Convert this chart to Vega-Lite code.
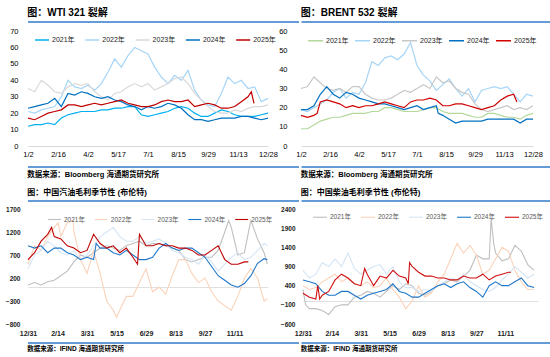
{
"$schema": "https://vega.github.io/schema/vega-lite/v6.json",
"padding": {"left": 5, "top": 8, "right": 0, "bottom": 0},
"background": "white",
"config": {
  "view": {"stroke": null},
  "font": "Liberation Sans, Noto Sans CJK SC",
  "title": {"font": "Liberation Sans, Noto Sans CJK SC", "color": "#000"},
  "axis": {"labelFont": "Liberation Sans, Noto Sans CJK SC", "labelFlush": false, "labelOverlap": false, "format": "d"},
  "legend": {"labelFont": "Liberation Sans, Noto Sans CJK SC"}
},
"resolve": {"scale": {"color": "independent", "strokeWidth": "independent", "x": "independent", "y": "independent"}, "legend": {"color": "independent", "strokeWidth": "independent"}},
"datasets": {
"wti": [
{"s":"2021年","d":2,"v":12},{"s":"2021年","d":12,"v":13},{"s":"2021年","d":22,"v":13},{"s":"2021年","d":32,"v":14},{"s":"2021年","d":42,"v":13},{"s":"2021年","d":52,"v":17},{"s":"2021年","d":62,"v":19},{"s":"2021年","d":72,"v":20},{"s":"2021年","d":82,"v":21},{"s":"2021年","d":92,"v":21},{"s":"2021年","d":102,"v":21},{"s":"2021年","d":112,"v":22},{"s":"2021年","d":122,"v":22},{"s":"2021年","d":132,"v":23},{"s":"2021年","d":142,"v":23},{"s":"2021年","d":152,"v":24},{"s":"2021年","d":162,"v":24},{"s":"2021年","d":172,"v":19},{"s":"2021年","d":182,"v":18},{"s":"2021年","d":192,"v":19},{"s":"2021年","d":202,"v":20},{"s":"2021年","d":212,"v":21},{"s":"2021年","d":222,"v":23},{"s":"2021年","d":232,"v":24},{"s":"2021年","d":242,"v":23},{"s":"2021年","d":252,"v":20},{"s":"2021年","d":262,"v":18},{"s":"2021年","d":272,"v":18},{"s":"2021年","d":282,"v":20},{"s":"2021年","d":292,"v":22},{"s":"2021年","d":302,"v":21},{"s":"2021年","d":312,"v":19},{"s":"2021年","d":322,"v":18},{"s":"2021年","d":332,"v":18},{"s":"2021年","d":342,"v":18},{"s":"2021年","d":352,"v":19},{"s":"2021年","d":362,"v":20},
{"s":"2022年","d":2,"v":21},{"s":"2022年","d":12,"v":20},{"s":"2022年","d":22,"v":22},{"s":"2022年","d":32,"v":23},{"s":"2022年","d":42,"v":24},{"s":"2022年","d":52,"v":30},{"s":"2022年","d":62,"v":40},{"s":"2022年","d":72,"v":36},{"s":"2022年","d":82,"v":35},{"s":"2022年","d":92,"v":37},{"s":"2022年","d":102,"v":34},{"s":"2022年","d":112,"v":38},{"s":"2022年","d":122,"v":45},{"s":"2022年","d":132,"v":53},{"s":"2022年","d":142,"v":48},{"s":"2022年","d":152,"v":55},{"s":"2022年","d":162,"v":60},{"s":"2022年","d":172,"v":58},{"s":"2022年","d":182,"v":56},{"s":"2022年","d":192,"v":48},{"s":"2022年","d":202,"v":42},{"s":"2022年","d":212,"v":38},{"s":"2022年","d":222,"v":43},{"s":"2022年","d":232,"v":40},{"s":"2022年","d":242,"v":46},{"s":"2022年","d":252,"v":34},{"s":"2022年","d":262,"v":28},{"s":"2022年","d":272,"v":25},{"s":"2022年","d":282,"v":24},{"s":"2022年","d":292,"v":32},{"s":"2022年","d":302,"v":42},{"s":"2022年","d":312,"v":38},{"s":"2022年","d":322,"v":40},{"s":"2022年","d":332,"v":35},{"s":"2022年","d":342,"v":36},{"s":"2022年","d":352,"v":27},{"s":"2022年","d":362,"v":29},
{"s":"2023年","d":2,"v":35},{"s":"2023年","d":12,"v":33},{"s":"2023年","d":22,"v":40},{"s":"2023年","d":32,"v":37},{"s":"2023年","d":42,"v":33},{"s":"2023年","d":52,"v":32},{"s":"2023年","d":62,"v":36},{"s":"2023年","d":72,"v":38},{"s":"2023年","d":82,"v":37},{"s":"2023年","d":92,"v":38},{"s":"2023年","d":102,"v":33},{"s":"2023年","d":112,"v":30},{"s":"2023年","d":122,"v":28},{"s":"2023年","d":132,"v":32},{"s":"2023年","d":142,"v":33},{"s":"2023年","d":152,"v":36},{"s":"2023年","d":162,"v":38},{"s":"2023年","d":172,"v":36},{"s":"2023年","d":182,"v":38},{"s":"2023年","d":192,"v":34},{"s":"2023年","d":202,"v":36},{"s":"2023年","d":212,"v":38},{"s":"2023年","d":222,"v":41},{"s":"2023年","d":232,"v":42},{"s":"2023年","d":242,"v":38},{"s":"2023年","d":252,"v":32},{"s":"2023年","d":262,"v":28},{"s":"2023年","d":272,"v":24},{"s":"2023年","d":282,"v":21},{"s":"2023年","d":292,"v":20},{"s":"2023年","d":302,"v":20},{"s":"2023年","d":312,"v":22},{"s":"2023年","d":322,"v":21},{"s":"2023年","d":332,"v":23},{"s":"2023年","d":342,"v":24},{"s":"2023年","d":352,"v":24},{"s":"2023年","d":362,"v":25},
{"s":"2024年","d":2,"v":23},{"s":"2024年","d":12,"v":24},{"s":"2024年","d":22,"v":25},{"s":"2024年","d":32,"v":26},{"s":"2024年","d":42,"v":29},{"s":"2024年","d":52,"v":24},{"s":"2024年","d":62,"v":32},{"s":"2024年","d":72,"v":31},{"s":"2024年","d":82,"v":33},{"s":"2024年","d":92,"v":32},{"s":"2024年","d":102,"v":30},{"s":"2024年","d":112,"v":29},{"s":"2024年","d":122,"v":30},{"s":"2024年","d":132,"v":28},{"s":"2024年","d":142,"v":27},{"s":"2024年","d":152,"v":25},{"s":"2024年","d":162,"v":24},{"s":"2024年","d":172,"v":22},{"s":"2024年","d":182,"v":24},{"s":"2024年","d":192,"v":23},{"s":"2024年","d":202,"v":24},{"s":"2024年","d":212,"v":26},{"s":"2024年","d":222,"v":25},{"s":"2024年","d":232,"v":23},{"s":"2024年","d":242,"v":19},{"s":"2024年","d":252,"v":16},{"s":"2024年","d":262,"v":16},{"s":"2024年","d":272,"v":15},{"s":"2024年","d":282,"v":16},{"s":"2024年","d":292,"v":17},{"s":"2024年","d":302,"v":17},{"s":"2024年","d":312,"v":17},{"s":"2024年","d":322,"v":18},{"s":"2024年","d":332,"v":18},{"s":"2024年","d":342,"v":17},{"s":"2024年","d":352,"v":16},{"s":"2024年","d":362,"v":17},
{"s":"2025年","d":2,"v":17},{"s":"2025年","d":12,"v":16},{"s":"2025年","d":22,"v":18},{"s":"2025年","d":32,"v":20},{"s":"2025年","d":42,"v":21},{"s":"2025年","d":52,"v":22},{"s":"2025年","d":62,"v":25},{"s":"2025年","d":72,"v":25},{"s":"2025年","d":82,"v":24},{"s":"2025年","d":92,"v":25},{"s":"2025年","d":102,"v":26},{"s":"2025年","d":112,"v":25},{"s":"2025年","d":122,"v":26},{"s":"2025年","d":132,"v":27},{"s":"2025年","d":142,"v":28},{"s":"2025年","d":152,"v":26},{"s":"2025年","d":162,"v":25},{"s":"2025年","d":172,"v":24},{"s":"2025年","d":182,"v":24},{"s":"2025年","d":192,"v":25},{"s":"2025年","d":202,"v":27},{"s":"2025年","d":212,"v":28},{"s":"2025年","d":222,"v":27},{"s":"2025年","d":232,"v":27},{"s":"2025年","d":242,"v":28},{"s":"2025年","d":252,"v":24},{"s":"2025年","d":262,"v":25},{"s":"2025年","d":272,"v":26},{"s":"2025年","d":282,"v":25},{"s":"2025年","d":292,"v":23},{"s":"2025年","d":302,"v":23},{"s":"2025年","d":312,"v":24},{"s":"2025年","d":322,"v":27},{"s":"2025年","d":332,"v":30},{"s":"2025年","d":337,"v":33},{"s":"2025年","d":341,"v":26}
],
"brent": [
{"s":"2021年","d":2,"v":9},{"s":"2021年","d":12,"v":9},{"s":"2021年","d":22,"v":11},{"s":"2021年","d":32,"v":13},{"s":"2021年","d":42,"v":14},{"s":"2021年","d":52,"v":15},{"s":"2021年","d":62,"v":15},{"s":"2021年","d":72,"v":16},{"s":"2021年","d":82,"v":17},{"s":"2021年","d":92,"v":17},{"s":"2021年","d":102,"v":17},{"s":"2021年","d":112,"v":18},{"s":"2021年","d":122,"v":18},{"s":"2021年","d":132,"v":20},{"s":"2021年","d":142,"v":20},{"s":"2021年","d":152,"v":19},{"s":"2021年","d":162,"v":18},{"s":"2021年","d":172,"v":18},{"s":"2021年","d":182,"v":18},{"s":"2021年","d":192,"v":19},{"s":"2021年","d":202,"v":20},{"s":"2021年","d":212,"v":20},{"s":"2021年","d":222,"v":18},{"s":"2021年","d":232,"v":17},{"s":"2021年","d":242,"v":17},{"s":"2021年","d":252,"v":17},{"s":"2021年","d":262,"v":16},{"s":"2021年","d":272,"v":15},{"s":"2021年","d":282,"v":15},{"s":"2021年","d":292,"v":17},{"s":"2021年","d":302,"v":17},{"s":"2021年","d":312,"v":16},{"s":"2021年","d":322,"v":15},{"s":"2021年","d":332,"v":15},{"s":"2021年","d":342,"v":14},{"s":"2021年","d":352,"v":16},{"s":"2021年","d":362,"v":17},
{"s":"2022年","d":2,"v":19},{"s":"2022年","d":12,"v":18},{"s":"2022年","d":22,"v":20},{"s":"2022年","d":32,"v":22},{"s":"2022年","d":42,"v":24},{"s":"2022年","d":52,"v":28},{"s":"2022年","d":62,"v":30},{"s":"2022年","d":72,"v":25},{"s":"2022年","d":82,"v":28},{"s":"2022年","d":92,"v":27},{"s":"2022年","d":102,"v":33},{"s":"2022年","d":112,"v":44},{"s":"2022年","d":122,"v":42},{"s":"2022年","d":132,"v":46},{"s":"2022年","d":142,"v":47},{"s":"2022年","d":152,"v":45},{"s":"2022年","d":162,"v":48},{"s":"2022年","d":172,"v":54},{"s":"2022年","d":182,"v":42},{"s":"2022年","d":192,"v":37},{"s":"2022年","d":202,"v":34},{"s":"2022年","d":212,"v":29},{"s":"2022年","d":222,"v":32},{"s":"2022年","d":232,"v":35},{"s":"2022年","d":242,"v":30},{"s":"2022年","d":252,"v":26},{"s":"2022年","d":262,"v":30},{"s":"2022年","d":272,"v":23},{"s":"2022年","d":282,"v":29},{"s":"2022年","d":292,"v":30},{"s":"2022年","d":302,"v":31},{"s":"2022年","d":312,"v":30},{"s":"2022年","d":322,"v":31},{"s":"2022年","d":332,"v":27},{"s":"2022年","d":342,"v":23},{"s":"2022年","d":352,"v":27},{"s":"2022年","d":362,"v":26},
{"s":"2023年","d":2,"v":30},{"s":"2023年","d":12,"v":31},{"s":"2023年","d":22,"v":36},{"s":"2023年","d":32,"v":33},{"s":"2023年","d":42,"v":30},{"s":"2023年","d":52,"v":29},{"s":"2023年","d":62,"v":30},{"s":"2023年","d":72,"v":28},{"s":"2023年","d":82,"v":31},{"s":"2023年","d":92,"v":31},{"s":"2023年","d":102,"v":27},{"s":"2023年","d":112,"v":25},{"s":"2023年","d":122,"v":24},{"s":"2023年","d":132,"v":24},{"s":"2023年","d":142,"v":25},{"s":"2023年","d":152,"v":27},{"s":"2023年","d":162,"v":29},{"s":"2023年","d":172,"v":28},{"s":"2023年","d":182,"v":30},{"s":"2023年","d":192,"v":32},{"s":"2023年","d":202,"v":30},{"s":"2023年","d":212,"v":36},{"s":"2023年","d":222,"v":33},{"s":"2023年","d":232,"v":34},{"s":"2023年","d":242,"v":30},{"s":"2023年","d":252,"v":28},{"s":"2023年","d":262,"v":27},{"s":"2023年","d":272,"v":22},{"s":"2023年","d":282,"v":19},{"s":"2023年","d":292,"v":18},{"s":"2023年","d":302,"v":19},{"s":"2023年","d":312,"v":20},{"s":"2023年","d":322,"v":21},{"s":"2023年","d":332,"v":19},{"s":"2023年","d":342,"v":20},{"s":"2023年","d":352,"v":19},{"s":"2023年","d":362,"v":21},
{"s":"2024年","d":2,"v":19},{"s":"2024年","d":12,"v":19},{"s":"2024年","d":22,"v":21},{"s":"2024年","d":32,"v":27},{"s":"2024年","d":42,"v":31},{"s":"2024年","d":52,"v":27},{"s":"2024年","d":62,"v":25},{"s":"2024年","d":72,"v":28},{"s":"2024年","d":82,"v":27},{"s":"2024年","d":92,"v":25},{"s":"2024年","d":102,"v":24},{"s":"2024年","d":112,"v":23},{"s":"2024年","d":122,"v":22},{"s":"2024年","d":132,"v":22},{"s":"2024年","d":142,"v":21},{"s":"2024年","d":152,"v":20},{"s":"2024年","d":162,"v":19},{"s":"2024年","d":172,"v":20},{"s":"2024年","d":182,"v":21},{"s":"2024年","d":192,"v":19},{"s":"2024年","d":202,"v":20},{"s":"2024年","d":212,"v":21},{"s":"2024年","d":215,"v":17},{"s":"2024年","d":222,"v":16},{"s":"2024年","d":232,"v":14},{"s":"2024年","d":242,"v":12},{"s":"2024年","d":252,"v":13},{"s":"2024年","d":262,"v":13},{"s":"2024年","d":272,"v":13},{"s":"2024年","d":282,"v":13},{"s":"2024年","d":292,"v":14},{"s":"2024年","d":302,"v":14},{"s":"2024年","d":312,"v":14},{"s":"2024年","d":322,"v":14},{"s":"2024年","d":332,"v":14},{"s":"2024年","d":342,"v":12},{"s":"2024年","d":352,"v":14},{"s":"2024年","d":362,"v":14},
{"s":"2025年","d":2,"v":16},{"s":"2025年","d":12,"v":15},{"s":"2025年","d":22,"v":16},{"s":"2025年","d":27,"v":17},{"s":"2025年","d":32,"v":23},{"s":"2025年","d":42,"v":24},{"s":"2025年","d":52,"v":23},{"s":"2025年","d":62,"v":22},{"s":"2025年","d":72,"v":20},{"s":"2025年","d":82,"v":21},{"s":"2025年","d":92,"v":20},{"s":"2025年","d":102,"v":21},{"s":"2025年","d":112,"v":21},{"s":"2025年","d":122,"v":22},{"s":"2025年","d":132,"v":23},{"s":"2025年","d":142,"v":22},{"s":"2025年","d":152,"v":21},{"s":"2025年","d":162,"v":20},{"s":"2025年","d":172,"v":23},{"s":"2025年","d":182,"v":24},{"s":"2025年","d":192,"v":24},{"s":"2025年","d":202,"v":25},{"s":"2025年","d":212,"v":24},{"s":"2025年","d":222,"v":21},{"s":"2025年","d":232,"v":21},{"s":"2025年","d":242,"v":22},{"s":"2025年","d":252,"v":22},{"s":"2025年","d":262,"v":21},{"s":"2025年","d":272,"v":20},{"s":"2025年","d":282,"v":19},{"s":"2025年","d":292,"v":20},{"s":"2025年","d":302,"v":21},{"s":"2025年","d":312,"v":24},{"s":"2025年","d":322,"v":26},{"s":"2025年","d":332,"v":27},{"s":"2025年","d":337,"v":23}
],
"gas": [
{"s":"2021年","d":0,"v":50},{"s":"2021年","d":10,"v":100},{"s":"2021年","d":20,"v":50},{"s":"2021年","d":30,"v":120},{"s":"2021年","d":40,"v":150},{"s":"2021年","d":50,"v":250},{"s":"2021年","d":60,"v":350},{"s":"2021年","d":70,"v":550},{"s":"2021年","d":80,"v":700},{"s":"2021年","d":90,"v":650},{"s":"2021年","d":100,"v":750},{"s":"2021年","d":110,"v":850},{"s":"2021年","d":120,"v":900},{"s":"2021年","d":130,"v":850},{"s":"2021年","d":140,"v":800},{"s":"2021年","d":150,"v":900},{"s":"2021年","d":160,"v":950},{"s":"2021年","d":170,"v":1000},{"s":"2021年","d":180,"v":900},{"s":"2021年","d":190,"v":950},{"s":"2021年","d":200,"v":950},{"s":"2021年","d":210,"v":900},{"s":"2021年","d":220,"v":850},{"s":"2021年","d":230,"v":800},{"s":"2021年","d":240,"v":600},{"s":"2021年","d":250,"v":550},{"s":"2021年","d":260,"v":600},{"s":"2021年","d":270,"v":650},{"s":"2021年","d":280,"v":650},{"s":"2021年","d":290,"v":800},{"s":"2021年","d":300,"v":1200},{"s":"2021年","d":306,"v":1450},{"s":"2021年","d":310,"v":1300},{"s":"2021年","d":320,"v":700},{"s":"2021年","d":330,"v":750},{"s":"2021年","d":337,"v":1250},{"s":"2021年","d":340,"v":1450},{"s":"2021年","d":350,"v":1050},{"s":"2021年","d":360,"v":750},{"s":"2021年","d":365,"v":500},
{"s":"2022年","d":0,"v":500},{"s":"2022年","d":10,"v":900},{"s":"2022年","d":20,"v":800},{"s":"2022年","d":30,"v":1100},{"s":"2022年","d":40,"v":1300},{"s":"2022年","d":46,"v":1400},{"s":"2022年","d":50,"v":1100},{"s":"2022年","d":60,"v":1400},{"s":"2022年","d":69,"v":1450},{"s":"2022年","d":70,"v":1200},{"s":"2022年","d":80,"v":600},{"s":"2022年","d":90,"v":300},{"s":"2022年","d":100,"v":800},{"s":"2022年","d":110,"v":300},{"s":"2022年","d":120,"v":-300},{"s":"2022年","d":130,"v":-500},{"s":"2022年","d":135,"v":-650},{"s":"2022年","d":140,"v":-500},{"s":"2022年","d":150,"v":-200},{"s":"2022年","d":160,"v":-200},{"s":"2022年","d":170,"v":100},{"s":"2022年","d":180,"v":400},{"s":"2022年","d":190,"v":-100},{"s":"2022年","d":200,"v":0},{"s":"2022年","d":210,"v":-150},{"s":"2022年","d":220,"v":250},{"s":"2022年","d":230,"v":600},{"s":"2022年","d":240,"v":600},{"s":"2022年","d":250,"v":300},{"s":"2022年","d":260,"v":100},{"s":"2022年","d":270,"v":200},{"s":"2022年","d":280,"v":-100},{"s":"2022年","d":290,"v":-300},{"s":"2022年","d":300,"v":-400},{"s":"2022年","d":310,"v":-500},{"s":"2022年","d":320,"v":-200},{"s":"2022年","d":330,"v":200},{"s":"2022年","d":340,"v":400},{"s":"2022年","d":350,"v":200},{"s":"2022年","d":360,"v":-300},{"s":"2022年","d":365,"v":-250},
{"s":"2023年","d":0,"v":400},{"s":"2023年","d":10,"v":700},{"s":"2023年","d":20,"v":800},{"s":"2023年","d":30,"v":1000},{"s":"2023年","d":40,"v":900},{"s":"2023年","d":50,"v":750},{"s":"2023年","d":60,"v":700},{"s":"2023年","d":70,"v":800},{"s":"2023年","d":80,"v":600},{"s":"2023年","d":90,"v":700},{"s":"2023年","d":100,"v":900},{"s":"2023年","d":110,"v":1100},{"s":"2023年","d":120,"v":1200},{"s":"2023年","d":130,"v":1300},{"s":"2023年","d":140,"v":1100},{"s":"2023年","d":150,"v":1000},{"s":"2023年","d":160,"v":1000},{"s":"2023年","d":170,"v":1100},{"s":"2023年","d":180,"v":950},{"s":"2023年","d":190,"v":1000},{"s":"2023年","d":200,"v":1050},{"s":"2023年","d":210,"v":950},{"s":"2023年","d":220,"v":800},{"s":"2023年","d":230,"v":750},{"s":"2023年","d":240,"v":650},{"s":"2023年","d":250,"v":600},{"s":"2023年","d":260,"v":500},{"s":"2023年","d":270,"v":700},{"s":"2023年","d":280,"v":550},{"s":"2023年","d":290,"v":350},{"s":"2023年","d":300,"v":500},{"s":"2023年","d":310,"v":650},{"s":"2023年","d":320,"v":750},{"s":"2023年","d":330,"v":600},{"s":"2023年","d":340,"v":650},{"s":"2023年","d":350,"v":800},{"s":"2023年","d":360,"v":950},{"s":"2023年","d":365,"v":900},
{"s":"2024年","d":0,"v":900},{"s":"2024年","d":10,"v":850},{"s":"2024年","d":20,"v":900},{"s":"2024年","d":30,"v":750},{"s":"2024年","d":40,"v":850},{"s":"2024年","d":50,"v":850},{"s":"2024年","d":60,"v":750},{"s":"2024年","d":70,"v":700},{"s":"2024年","d":80,"v":600},{"s":"2024年","d":90,"v":650},{"s":"2024年","d":100,"v":600},{"s":"2024年","d":104,"v":950},{"s":"2024年","d":110,"v":850},{"s":"2024年","d":120,"v":850},{"s":"2024年","d":130,"v":750},{"s":"2024年","d":140,"v":700},{"s":"2024年","d":150,"v":800},{"s":"2024年","d":160,"v":700},{"s":"2024年","d":170,"v":600},{"s":"2024年","d":180,"v":600},{"s":"2024年","d":190,"v":650},{"s":"2024年","d":200,"v":850},{"s":"2024年","d":210,"v":950},{"s":"2024年","d":220,"v":850},{"s":"2024年","d":230,"v":800},{"s":"2024年","d":240,"v":850},{"s":"2024年","d":250,"v":850},{"s":"2024年","d":260,"v":750},{"s":"2024年","d":270,"v":650},{"s":"2024年","d":280,"v":450},{"s":"2024年","d":290,"v":250},{"s":"2024年","d":300,"v":150},{"s":"2024年","d":310,"v":50},{"s":"2024年","d":320,"v":0},{"s":"2024年","d":330,"v":80},{"s":"2024年","d":340,"v":250},{"s":"2024年","d":350,"v":520},{"s":"2024年","d":360,"v":620},{"s":"2024年","d":365,"v":600},
{"s":"2025年","d":0,"v":600},{"s":"2025年","d":10,"v":750},{"s":"2025年","d":20,"v":1000},{"s":"2025年","d":30,"v":1150},{"s":"2025年","d":36,"v":1300},{"s":"2025年","d":40,"v":1100},{"s":"2025年","d":50,"v":1050},{"s":"2025年","d":60,"v":900},{"s":"2025年","d":70,"v":850},{"s":"2025年","d":80,"v":750},{"s":"2025年","d":90,"v":800},{"s":"2025年","d":100,"v":1150},{"s":"2025年","d":110,"v":950},{"s":"2025年","d":120,"v":850},{"s":"2025年","d":130,"v":900},{"s":"2025年","d":140,"v":750},{"s":"2025年","d":150,"v":850},{"s":"2025年","d":160,"v":650},{"s":"2025年","d":167,"v":500},{"s":"2025年","d":170,"v":1150},{"s":"2025年","d":180,"v":900},{"s":"2025年","d":190,"v":900},{"s":"2025年","d":200,"v":950},{"s":"2025年","d":210,"v":900},{"s":"2025年","d":220,"v":900},{"s":"2025年","d":230,"v":850},{"s":"2025年","d":240,"v":850},{"s":"2025年","d":250,"v":800},{"s":"2025年","d":260,"v":700},{"s":"2025年","d":270,"v":700},{"s":"2025年","d":280,"v":800},{"s":"2025年","d":290,"v":900},{"s":"2025年","d":300,"v":600},{"s":"2025年","d":310,"v":500},{"s":"2025年","d":320,"v":500},{"s":"2025年","d":330,"v":550},{"s":"2025年","d":336,"v":550}
],
"diesel": [
{"s":"2021年","d":0,"v":300},{"s":"2021年","d":4,"v":-100},{"s":"2021年","d":10,"v":-200},{"s":"2021年","d":20,"v":-200},{"s":"2021年","d":30,"v":-250},{"s":"2021年","d":40,"v":-350},{"s":"2021年","d":50,"v":-150},{"s":"2021年","d":60,"v":-100},{"s":"2021年","d":70,"v":-100},{"s":"2021年","d":80,"v":100},{"s":"2021年","d":90,"v":150},{"s":"2021年","d":100,"v":250},{"s":"2021年","d":110,"v":200},{"s":"2021年","d":120,"v":100},{"s":"2021年","d":130,"v":250},{"s":"2021年","d":140,"v":400},{"s":"2021年","d":150,"v":300},{"s":"2021年","d":160,"v":450},{"s":"2021年","d":170,"v":400},{"s":"2021年","d":180,"v":200},{"s":"2021年","d":190,"v":150},{"s":"2021年","d":200,"v":250},{"s":"2021年","d":210,"v":400},{"s":"2021年","d":220,"v":450},{"s":"2021年","d":230,"v":550},{"s":"2021年","d":240,"v":500},{"s":"2021年","d":250,"v":650},{"s":"2021年","d":260,"v":800},{"s":"2021年","d":270,"v":1200},{"s":"2021年","d":280,"v":1100},{"s":"2021年","d":290,"v":1100},{"s":"2021年","d":293,"v":2150},{"s":"2021年","d":297,"v":1500},{"s":"2021年","d":300,"v":1250},{"s":"2021年","d":310,"v":1050},{"s":"2021年","d":320,"v":1100},{"s":"2021年","d":330,"v":1450},{"s":"2021年","d":340,"v":1300},{"s":"2021年","d":350,"v":950},{"s":"2021年","d":360,"v":800},
{"s":"2022年","d":0,"v":400},{"s":"2022年","d":10,"v":300},{"s":"2022年","d":20,"v":350},{"s":"2022年","d":30,"v":500},{"s":"2022年","d":40,"v":600},{"s":"2022年","d":50,"v":700},{"s":"2022年","d":60,"v":500},{"s":"2022年","d":70,"v":600},{"s":"2022年","d":80,"v":450},{"s":"2022年","d":90,"v":400},{"s":"2022年","d":100,"v":500},{"s":"2022年","d":110,"v":350},{"s":"2022年","d":120,"v":400},{"s":"2022年","d":130,"v":600},{"s":"2022年","d":140,"v":300},{"s":"2022年","d":150,"v":100},{"s":"2022年","d":160,"v":-200},{"s":"2022年","d":170,"v":0},{"s":"2022年","d":180,"v":400},{"s":"2022年","d":190,"v":100},{"s":"2022年","d":200,"v":200},{"s":"2022年","d":210,"v":500},{"s":"2022年","d":220,"v":700},{"s":"2022年","d":230,"v":1100},{"s":"2022年","d":240,"v":1500},{"s":"2022年","d":250,"v":1250},{"s":"2022年","d":260,"v":1450},{"s":"2022年","d":270,"v":1200},{"s":"2022年","d":280,"v":700},{"s":"2022年","d":290,"v":800},{"s":"2022年","d":300,"v":1100},{"s":"2022年","d":310,"v":1400},{"s":"2022年","d":320,"v":1300},{"s":"2022年","d":330,"v":800},{"s":"2022年","d":340,"v":500},{"s":"2022年","d":350,"v":300},{"s":"2022年","d":360,"v":300},
{"s":"2023年","d":0,"v":800},{"s":"2023年","d":10,"v":600},{"s":"2023年","d":20,"v":700},{"s":"2023年","d":30,"v":1000},{"s":"2023年","d":40,"v":900},{"s":"2023年","d":50,"v":1100},{"s":"2023年","d":60,"v":900},{"s":"2023年","d":70,"v":1250},{"s":"2023年","d":80,"v":850},{"s":"2023年","d":90,"v":700},{"s":"2023年","d":100,"v":800},{"s":"2023年","d":110,"v":900},{"s":"2023年","d":120,"v":950},{"s":"2023年","d":130,"v":700},{"s":"2023年","d":140,"v":900},{"s":"2023年","d":150,"v":500},{"s":"2023年","d":160,"v":350},{"s":"2023年","d":170,"v":350},{"s":"2023年","d":180,"v":250},{"s":"2023年","d":190,"v":300},{"s":"2023年","d":200,"v":250},{"s":"2023年","d":210,"v":400},{"s":"2023年","d":220,"v":500},{"s":"2023年","d":230,"v":600},{"s":"2023年","d":240,"v":550},{"s":"2023年","d":250,"v":700},{"s":"2023年","d":260,"v":500},{"s":"2023年","d":270,"v":400},{"s":"2023年","d":280,"v":300},{"s":"2023年","d":290,"v":250},{"s":"2023年","d":300,"v":350},{"s":"2023年","d":310,"v":550},{"s":"2023年","d":320,"v":700},{"s":"2023年","d":330,"v":900},{"s":"2023年","d":340,"v":750},{"s":"2023年","d":350,"v":600},{"s":"2023年","d":360,"v":700},
{"s":"2024年","d":0,"v":550},{"s":"2024年","d":10,"v":500},{"s":"2024年","d":20,"v":450},{"s":"2024年","d":30,"v":250},{"s":"2024年","d":40,"v":150},{"s":"2024年","d":50,"v":150},{"s":"2024年","d":60,"v":250},{"s":"2024年","d":70,"v":250},{"s":"2024年","d":80,"v":150},{"s":"2024年","d":90,"v":50},{"s":"2024年","d":100,"v":150},{"s":"2024年","d":110,"v":200},{"s":"2024年","d":120,"v":250},{"s":"2024年","d":130,"v":300},{"s":"2024年","d":140,"v":450},{"s":"2024年","d":150,"v":250},{"s":"2024年","d":160,"v":200},{"s":"2024年","d":170,"v":100},{"s":"2024年","d":180,"v":100},{"s":"2024年","d":190,"v":200},{"s":"2024年","d":200,"v":300},{"s":"2024年","d":210,"v":400},{"s":"2024年","d":220,"v":450},{"s":"2024年","d":230,"v":350},{"s":"2024年","d":240,"v":450},{"s":"2024年","d":250,"v":500},{"s":"2024年","d":260,"v":350},{"s":"2024年","d":270,"v":250},{"s":"2024年","d":280,"v":100},{"s":"2024年","d":290,"v":400},{"s":"2024年","d":300,"v":500},{"s":"2024年","d":310,"v":400},{"s":"2024年","d":320,"v":400},{"s":"2024年","d":330,"v":500},{"s":"2024年","d":340,"v":600},{"s":"2024年","d":350,"v":400},{"s":"2024年","d":360,"v":350},
{"s":"2025年","d":0,"v":200},{"s":"2025年","d":10,"v":100},{"s":"2025年","d":20,"v":50},{"s":"2025年","d":23,"v":400},{"s":"2025年","d":26,"v":50},{"s":"2025年","d":30,"v":150},{"s":"2025年","d":40,"v":250},{"s":"2025年","d":50,"v":550},{"s":"2025年","d":60,"v":700},{"s":"2025年","d":70,"v":600},{"s":"2025年","d":80,"v":450},{"s":"2025年","d":90,"v":400},{"s":"2025年","d":96,"v":850},{"s":"2025年","d":100,"v":700},{"s":"2025年","d":110,"v":400},{"s":"2025年","d":120,"v":650},{"s":"2025年","d":130,"v":600},{"s":"2025年","d":140,"v":800},{"s":"2025年","d":150,"v":650},{"s":"2025年","d":160,"v":600},{"s":"2025年","d":164,"v":450},{"s":"2025年","d":166,"v":1000},{"s":"2025年","d":170,"v":900},{"s":"2025年","d":180,"v":750},{"s":"2025年","d":190,"v":650},{"s":"2025年","d":200,"v":650},{"s":"2025年","d":210,"v":600},{"s":"2025年","d":220,"v":600},{"s":"2025年","d":230,"v":550},{"s":"2025年","d":240,"v":550},{"s":"2025年","d":250,"v":650},{"s":"2025年","d":260,"v":600},{"s":"2025年","d":270,"v":600},{"s":"2025年","d":280,"v":700},{"s":"2025年","d":290,"v":550},{"s":"2025年","d":300,"v":650},{"s":"2025年","d":310,"v":700},{"s":"2025年","d":320,"v":750},{"s":"2025年","d":324,"v":750}
]
},
"spacing": 10,
"vconcat": [
{"spacing": 4,
 "resolve": {"scale": {"color": "independent", "strokeWidth": "independent", "x": "independent", "y": "independent"}, "legend": {"color": "independent", "strokeWidth": "independent"}},
 "vconcat": [
  {"hconcat": [
    {"width": 271, "height": 1, "data": {"values": [{}]},
     "title": {"text": "图：WTI 321 裂解", "anchor": "start", "fontSize": 10, "fontWeight": "bold", "offset": 3},
     "mark": {"type": "rule", "color": "#2f7bc9", "strokeWidth": 1.5}, "encoding": {"y": {"value": 0}}},
    {"width": 267, "height": 1, "data": {"values": [{}]},
     "title": {"text": "图：BRENT 532 裂解", "anchor": "start", "fontSize": 10, "fontWeight": "bold", "offset": 3},
     "mark": {"type": "rule", "color": "#2f7bc9", "strokeWidth": 1.5}, "encoding": {"y": {"value": 0}}}
  ], "spacing": 0.5, "bounds": "full"},
  {"hconcat": [
    {"width": 240, "height": 115, "data": {"name": "wti"},
     "mark": {"type": "line", "strokeWidth": 1.2},
     "encoding": {
      "x": {"field": "d", "type": "quantitative", "scale": {"domain": [2, 362], "nice": false, "zero": false},
        "axis": {"title": null, "values": [2,47,92,137,182,227,272,317,362], "labelExpr": "timeFormat(datetime(2021,0,datum.value),'%-m/%-d')", "grid": false, "ticks": false, "domainColor": "#d9d9d9", "labelFontSize": 7.5, "labelColor": "#000", "labelPadding": 4, "minExtent": 16, "maxExtent": 16}},
      "y": {"field": "v", "type": "quantitative", "scale": {"domain": [0, 70], "nice": false},
        "axis": {"title": null, "values": [0,10,20,30,40,50,60,70], "grid": false, "ticks": false, "domain": false, "labelFontSize": 7.5, "labelColor": "#000", "labelPadding": 10, "minExtent": 22, "maxExtent": 22, "labelOverlap": false}},
      "color": {"field": "s", "type": "nominal",
        "scale": {"domain": ["2021年","2022年","2023年","2024年","2025年"], "range": ["#00b0f0","#a6d5f7","#d9d9d9","#0070c0","#c00000"]},
        "legend": {"orient": "none", "legendX": 6, "legendY": 1, "direction": "horizontal", "title": null, "symbolType": "stroke", "symbolSize": 196, "symbolStrokeWidth": 1.5, "labelFontSize": 7, "labelColor": "#222", "columnPadding": 7.3, "labelOffset": 2, "padding": 0}}
     }},
    {"width": 232, "height": 115, "data": {"name": "brent"},
     "mark": {"type": "line", "strokeWidth": 1.2},
     "encoding": {
      "x": {"field": "d", "type": "quantitative", "scale": {"domain": [2, 362], "nice": false, "zero": false},
        "axis": {"title": null, "values": [2,47,92,137,182,227,272,317,362], "labelExpr": "timeFormat(datetime(2021,0,datum.value),'%-m/%-d')", "grid": false, "ticks": false, "domainColor": "#d9d9d9", "labelFontSize": 7.5, "labelColor": "#000", "labelPadding": 4, "minExtent": 16, "maxExtent": 16}},
      "y": {"field": "v", "type": "quantitative", "scale": {"domain": [0, 60], "nice": false},
        "axis": {"title": null, "values": [0,10,20,30,40,50,60], "grid": false, "ticks": false, "domain": false, "labelFontSize": 7.5, "labelColor": "#000", "labelPadding": 14, "minExtent": 24, "maxExtent": 24, "labelOverlap": false}},
      "color": {"field": "s", "type": "nominal",
        "scale": {"domain": ["2021年","2022年","2023年","2024年","2025年"], "range": ["#b4d79a","#a6d5f7","#c8c8c8","#0070c0","#d00000"]},
        "legend": {"orient": "none", "legendX": 6, "legendY": 1, "direction": "horizontal", "title": null, "symbolType": "stroke", "symbolSize": 225, "symbolStrokeWidth": 1.5, "labelFontSize": 7, "labelColor": "#222", "columnPadding": 3, "labelOffset": 2, "padding": 0}}
     }}
  ], "spacing": 33, "bounds": "flush",
  "resolve": {"scale": {"color": "independent", "x": "independent", "y": "independent"}, "legend": {"color": "independent"}}},
  {"hconcat": [
    {"width": 271, "height": 1, "data": {"values": [{}]},
     "title": {"text": "数据来源：Bloomberg  海通期货研究所", "orient": "bottom", "anchor": "start", "fontSize": 7.5, "fontWeight": "bold", "offset": 3},
     "mark": {"type": "rule", "color": "#2f7bc9", "strokeWidth": 1.5}, "encoding": {"y": {"value": 0}}},
    {"width": 267, "height": 1, "data": {"values": [{}]},
     "title": {"text": "数据来源：Bloomberg  海通期货研究所", "orient": "bottom", "anchor": "start", "fontSize": 7.5, "fontWeight": "bold", "offset": 3},
     "mark": {"type": "rule", "color": "#2f7bc9", "strokeWidth": 1.5}, "encoding": {"y": {"value": 0}}}
  ], "spacing": 0.5, "bounds": "full"}
 ]},
{"spacing": 4,
 "resolve": {"scale": {"color": "independent", "strokeWidth": "independent", "x": "independent", "y": "independent"}, "legend": {"color": "independent", "strokeWidth": "independent"}},
 "vconcat": [
  {"hconcat": [
    {"width": 271, "height": 1, "data": {"values": [{}]},
     "title": {"text": "图：中国汽油毛利季节性 (布伦特)", "anchor": "start", "fontSize": 8, "fontWeight": "bold", "offset": 3},
     "mark": {"type": "rule", "color": "#2f7bc9", "strokeWidth": 1.5}, "encoding": {"y": {"value": 0}}},
    {"width": 267, "height": 1, "data": {"values": [{}]},
     "title": {"text": "图：中国柴油毛利季节性 (布伦特)", "anchor": "start", "fontSize": 8, "fontWeight": "bold", "offset": 3},
     "mark": {"type": "rule", "color": "#2f7bc9", "strokeWidth": 1.5}, "encoding": {"y": {"value": 0}}}
  ], "spacing": 0.5, "bounds": "full"},
  {"hconcat": [
    {"width": 240, "height": 115, "data": {"name": "gas"}, "mark": {"type": "line"},
     "encoding": {
      "x": {"field": "d", "type": "quantitative", "scale": {"domain": [0, 366], "nice": false, "zero": false},
        "axis": {"title": null, "values": [0,45,90,135,180,225,270,315], "labelExpr": "timeFormat(datetime(2021,0,datum.value),'%-m/%-d')", "grid": false, "ticks": false, "domain": false, "labelFontSize": 7, "labelFontWeight": "bold", "labelColor": "#222", "labelPadding": 5, "minExtent": 14, "maxExtent": 14}},
      "y": {"field": "v", "type": "quantitative", "scale": {"domain": [-800, 1700], "nice": false},
        "axis": {"title": null, "values": [-800,-300,0,200,700,1200,1700], "labelExpr": "datum.value == 0 ? '' : datum.label", "grid": true, "gridColor": {"condition": {"test": "datum.value == 0", "value": "#e0e0e0"}, "value": "rgba(0,0,0,0)"}, "gridWidth": 1, "ticks": false, "domain": false, "labelFontSize": 6.5, "labelFontWeight": "bold", "labelColor": "#222", "labelPadding": 8, "minExtent": 22, "maxExtent": 22, "labelOverlap": false}},
      "color": {"field": "s", "type": "nominal",
        "scale": {"domain": ["2021年","2022年","2023年","2024年","2025年"], "range": ["#bfbfbf","#fbd3bb","#d5e5f5","#1f77c9","#c00000"]},
        "legend": {"orient": "none", "legendX": 19, "legendY": 3, "direction": "horizontal", "title": null, "symbolType": "stroke", "symbolSize": 169, "symbolStrokeWidth": 1.5, "labelFontSize": 6.5, "labelColor": "#595959", "columnPadding": 6.8, "labelOffset": 2, "padding": 0}},
      "strokeWidth": {"field": "s", "type": "nominal", "scale": {"domain": ["2021年","2022年","2023年","2024年","2025年"], "range": [1.1,1.1,1.1,1.4,2.2]}, "legend": null}
     }},
    {"width": 235, "height": 115, "data": {"name": "diesel"}, "mark": {"type": "line"},
     "encoding": {
      "x": {"field": "d", "type": "quantitative", "scale": {"domain": [0, 366], "nice": false, "zero": false},
        "axis": {"title": null, "values": [0,45,90,135,180,225,270,315], "labelExpr": "timeFormat(datetime(2021,0,datum.value),'%-m/%-d')", "grid": false, "ticks": false, "domain": false, "labelFontSize": 7, "labelFontWeight": "bold", "labelColor": "#222", "labelPadding": 5, "minExtent": 14, "maxExtent": 14}},
      "y": {"field": "v", "type": "quantitative", "scale": {"domain": [-600, 2400], "nice": false},
        "axis": {"title": null, "values": [-600,-100,0,400,900,1400,1900,2400], "labelExpr": "datum.value == 0 ? '' : datum.label", "grid": true, "gridColor": {"condition": {"test": "datum.value == 0", "value": "#e0e0e0"}, "value": "rgba(0,0,0,0)"}, "gridWidth": 1, "ticks": false, "domain": false, "labelFontSize": 6.5, "labelFontWeight": "bold", "labelColor": "#222", "labelPadding": 8, "minExtent": 26, "maxExtent": 26, "labelOverlap": false}},
      "color": {"field": "s", "type": "nominal",
        "scale": {"domain": ["2021年","2022年","2023年","2024年","2025年"], "range": ["#bfbfbf","#fbd3bb","#d5e5f5","#1f77c9","#d01010"]},
        "legend": {"orient": "none", "legendX": 9, "legendY": 0, "direction": "horizontal", "title": null, "symbolType": "stroke", "symbolSize": 196, "symbolStrokeWidth": 1.5, "labelFontSize": 6.5, "labelColor": "#595959", "columnPadding": 7, "labelOffset": 2, "padding": 0}},
      "strokeWidth": {"field": "s", "type": "nominal", "scale": {"domain": ["2021年","2022年","2023年","2024年","2025年"], "range": [1.1,1.1,1.1,1.4,1.6]}, "legend": null}
     }}
  ], "spacing": 35, "bounds": "flush",
  "resolve": {"scale": {"color": "independent", "strokeWidth": "independent", "x": "independent", "y": "independent"}, "legend": {"color": "independent", "strokeWidth": "independent"}}},
  {"hconcat": [
    {"width": 271, "height": 1, "data": {"values": [{}]},
     "title": {"text": "数据来源：IFIND  海通期货研究所", "orient": "bottom", "anchor": "start", "fontSize": 6.5, "fontWeight": "bold", "offset": 2},
     "mark": {"type": "rule", "color": "#2f7bc9", "strokeWidth": 1.5}, "encoding": {"y": {"value": 0}}},
    {"width": 267, "height": 1, "data": {"values": [{}]},
     "title": {"text": "数据来源：IFIND  海通期货研究所", "orient": "bottom", "anchor": "start", "fontSize": 6.5, "fontWeight": "bold", "offset": 2},
     "mark": {"type": "rule", "color": "#2f7bc9", "strokeWidth": 1.5}, "encoding": {"y": {"value": 0}}}
  ], "spacing": 0.5, "bounds": "full"}
 ]}
]
}
